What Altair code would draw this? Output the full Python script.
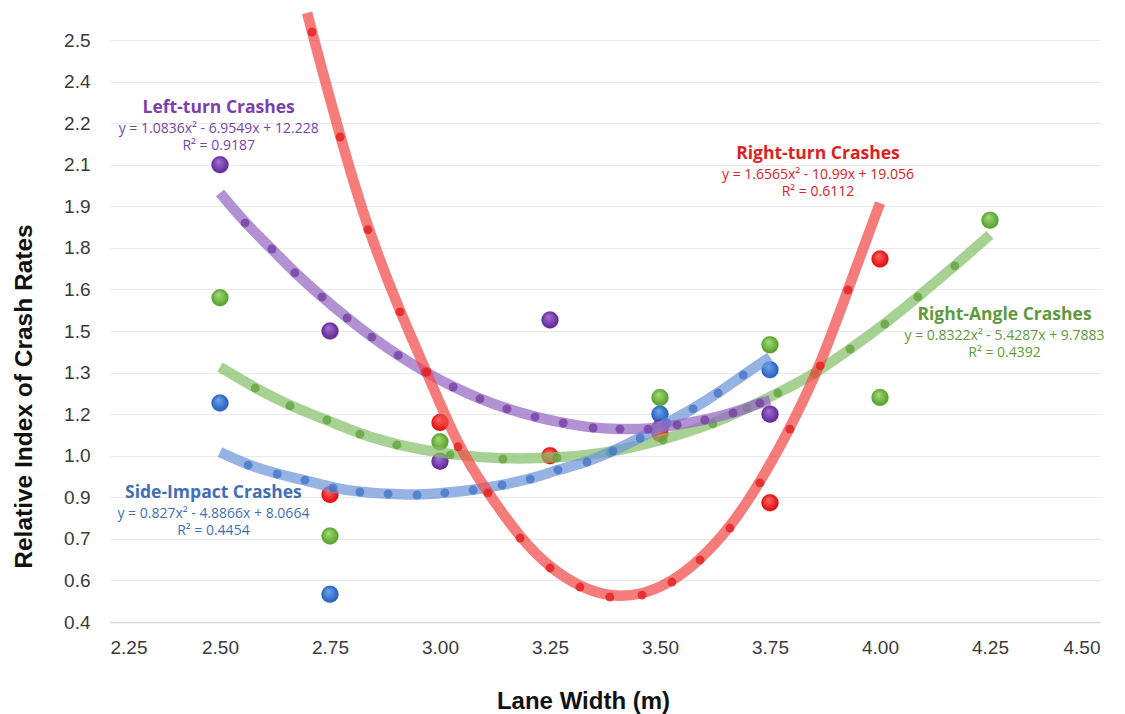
import altair as alt
import pandas as pd

# ---------------- data ----------------
# observed points: lane width (m) and relative index of crash rates
left_x = [2.50, 2.75, 3.00, 3.25, 3.50, 3.75]
left_y = [2.05, 1.45, 0.98, 1.49, 1.10, 1.15]
right_x = [2.75, 3.00, 3.25, 3.50, 3.75, 4.00]
right_y = [0.86, 1.12, 1.00, 1.08, 0.83, 1.71]
angle_x = [2.50, 2.75, 3.00, 3.50, 3.75, 4.00, 4.25]
angle_y = [1.57, 0.71, 1.05, 1.21, 1.40, 1.21, 1.85]
side_x = [2.50, 2.75, 3.50, 3.75]
side_y = [1.19, 0.50, 1.15, 1.31]

# trendline curves at their dot positions
left_tx = [2.500, 2.557, 2.618, 2.670, 2.732, 2.789, 2.845, 2.905, 2.966, 3.030,
           3.091, 3.152, 3.216, 3.280, 3.348, 3.409, 3.473, 3.539, 3.602, 3.666, 3.727, 3.750]
left_ty = [1.948, 1.840, 1.746, 1.660, 1.573, 1.497, 1.428, 1.362, 1.302, 1.248,
           1.205, 1.169, 1.140, 1.118, 1.100, 1.096, 1.096, 1.111, 1.129, 1.154, 1.190, 1.200]
right_tx = [2.698, 2.709, 2.773, 2.836, 2.909, 2.970, 3.041, 3.109, 3.182, 3.250, 3.318,
            3.386, 3.459, 3.527, 3.591, 3.659, 3.727, 3.795, 3.864, 3.927, 4.000]
right_ty = [2.598, 2.529, 2.150, 1.815, 1.519, 1.302, 1.032, 0.866, 0.703, 0.595, 0.526,
            0.490, 0.497, 0.544, 0.624, 0.739, 0.902, 1.096, 1.324, 1.598, 1.912]
angle_tx = [2.500, 2.580, 2.659, 2.743, 2.818, 2.902, 3.023, 3.143, 3.266, 3.386,
            3.507, 3.620, 3.698, 3.768, 3.852, 3.932, 4.011, 4.086, 4.170, 4.250]
angle_ty = [1.320, 1.244, 1.180, 1.129, 1.078, 1.039, 1.003, 0.988, 0.992, 1.010,
            1.057, 1.115, 1.172, 1.226, 1.295, 1.385, 1.475, 1.573, 1.685, 1.797]
side_tx = [2.500, 2.564, 2.630, 2.693, 2.757, 2.818, 2.882, 2.948, 3.011, 3.075, 3.141,
           3.205, 3.268, 3.334, 3.393, 3.455, 3.516, 3.575, 3.632, 3.689, 3.750]
side_ty = [1.013, 0.966, 0.934, 0.912, 0.884, 0.869, 0.862, 0.858, 0.866, 0.876, 0.894,
           0.916, 0.949, 0.977, 1.017, 1.064, 1.118, 1.169, 1.226, 1.291, 1.356]

# trendline labels
series_names = ["Left-turn Crashes", "Right-turn Crashes", "Right-Angle Crashes", "Side-Impact Crashes"]
equations = ["y = 1.0836x² - 6.9549x + 12.228", "y = 1.6565x² - 10.99x + 19.056",
             "y = 0.8322x² - 5.4287x + 9.7883", "y = 0.827x² - 4.8866x + 8.0664"]
r_squared = ["R² = 0.9187", "R² = 0.6112", "R² = 0.4392", "R² = 0.4454"]
label_x = [2.497, 3.859, 4.283, 2.485]
label_y = [2.255, 2.089, 1.508, 0.866]

# axes
x_ticks = [2.25, 2.50, 2.75, 3.00, 3.25, 3.50, 3.75, 4.00, 4.25, 4.50]
y_ticks = [0.4, 0.55, 0.7, 0.85, 1.0, 1.15, 1.3, 1.45, 1.6, 1.75, 1.9, 2.05, 2.2, 2.35, 2.5]
y_tick_labels = ["0.4", "0.6", "0.7", "0.9", "1.0", "1.2", "1.3", "1.5",
                 "1.6", "1.8", "1.9", "2.1", "2.2", "2.4", "2.5"]

# ---------------- styles ----------------
point_style = {
    "Left-turn Crashes": ("#a574d6", "#5a2190"),
    "Right-turn Crashes": ("#ff6a6a", "#e00000"),
    "Right-Angle Crashes": ("#a6dc78", "#4f9a25"),
    "Side-Impact Crashes": ("#6fa6ee", "#1f58b8"),
}
line_color = {
    "Left-turn Crashes": "#9468c0",
    "Right-turn Crashes": "#f24a4a",
    "Right-Angle Crashes": "#86c06a",
    "Side-Impact Crashes": "#6d95d8",
}
dot_color = {
    "Left-turn Crashes": "#7440a6",
    "Right-turn Crashes": "#e41e1e",
    "Right-Angle Crashes": "#62a43e",
    "Side-Impact Crashes": "#4577c8",
}
text_color = {
    "Left-turn Crashes": "#7b3fae",
    "Right-turn Crashes": "#e0201e",
    "Right-Angle Crashes": "#5f9a3c",
    "Side-Impact Crashes": "#3f6fb8",
}

pts = {
    "Left-turn Crashes": (left_x, left_y),
    "Right-turn Crashes": (right_x, right_y),
    "Right-Angle Crashes": (angle_x, angle_y),
    "Side-Impact Crashes": (side_x, side_y),
}
trends = {
    "Left-turn Crashes": (left_tx, left_ty),
    "Right-turn Crashes": (right_tx, right_ty),
    "Right-Angle Crashes": (angle_tx, angle_ty),
    "Side-Impact Crashes": (side_tx, side_ty),
}

xscale = alt.Scale(domain=[2.25, 4.5], nice=False, zero=False)
yscale = alt.Scale(domain=[0.4, 2.5], nice=False, zero=False)

label_expr = "[" + ",".join("'%s'" % s for s in y_tick_labels) + "][round((datum.value - 0.4) / 0.15)]"

x_axis = alt.Axis(values=x_ticks, format=".2f", grid=False, ticks=False,
                  domain=True, domainColor="#d6d6d6", domainWidth=1.5,
                  labelFont="Liberation Sans", labelFontSize=19, labelColor="#3a3a3a",
                  labelPadding=16,
                  title="Lane Width (m)", titleFont="Liberation Sans", titleFontSize=24,
                  titleFontWeight="bold", titleColor="#111111",
                  titleX=473, titleY=86, titleBaseline="alphabetic")
y_axis = alt.Axis(values=y_ticks, labelExpr=label_expr, grid=True, gridColor="#e9e9e9",
                  gridWidth=1.2, ticks=False, domain=False,
                  labelFont="Liberation Sans", labelFontSize=19, labelColor="#3a3a3a",
                  labelPadding=20,
                  title="Relative Index of Crash Rates", titleFont="Liberation Sans",
                  titleFontSize=24.5, titleFontWeight="bold", titleColor="#111111",
                  titleX=-86, titleY=356, titleAngle=-90, titleBaseline="middle")

layers = []

# base layer carrying the axes
base_df = pd.DataFrame({"x": x_ticks[:2], "y": y_ticks[:2]})
layers.append(
    alt.Chart(base_df).mark_point(opacity=0).encode(
        x=alt.X("x:Q", scale=xscale, axis=x_axis),
        y=alt.Y("y:Q", scale=yscale, axis=y_axis),
    )
)

# observed points (glossy spheres)
for name in ["Side-Impact Crashes", "Left-turn Crashes", "Right-Angle Crashes", "Right-turn Crashes"]:
    xs, ys = pts[name]
    light, dark = point_style[name]
    grad = alt.RadialGradient(
        gradient="radial",
        stops=[alt.GradientStop(color=light, offset=0), alt.GradientStop(color=dark, offset=1)],
        x1=0.4, y1=0.3, r1=0.0, x2=0.5, y2=0.5, r2=0.55,
    )
    df = pd.DataFrame({"x": xs, "y": ys})
    layers.append(
        alt.Chart(df).mark_circle(size=290, fill=grad, opacity=1, stroke=dark, strokeWidth=0.5,
                                  strokeOpacity=0.5).encode(
            x=alt.X("x:Q", scale=xscale), y=alt.Y("y:Q", scale=yscale)
        )
    )

# trendlines with their dots
for name in ["Right-Angle Crashes", "Side-Impact Crashes", "Left-turn Crashes", "Right-turn Crashes"]:
    xs, ys = trends[name]
    df = pd.DataFrame({"x": xs, "y": ys})
    layers.append(
        alt.Chart(df).mark_line(strokeWidth=10.5, opacity=0.72, color=line_color[name],
                                interpolate="basis", strokeCap="butt").encode(
            x=alt.X("x:Q", scale=xscale), y=alt.Y("y:Q", scale=yscale)
        )
    )
    layers.append(
        alt.Chart(df.iloc[1:-1]).mark_circle(size=80, opacity=0.8, color=dot_color[name]).encode(
            x=alt.X("x:Q", scale=xscale), y=alt.Y("y:Q", scale=yscale)
        )
    )

# annotations
for i, name in enumerate(series_names):
    c = text_color[name]
    t1 = pd.DataFrame({"x": [label_x[i]], "y": [label_y[i]], "t": [name]})
    layers.append(
        alt.Chart(t1).mark_text(font="Open Sans", fontSize=17.5, fontWeight="bold", color=c,
                                align="center", baseline="middle").encode(
            x=alt.X("x:Q", scale=xscale), y=alt.Y("y:Q", scale=yscale), text="t:N"
        )
    )
    t2 = pd.DataFrame({"x": [label_x[i]], "y": [label_y[i]], "t": [equations[i]]})
    layers.append(
        alt.Chart(t2).mark_text(font="Open Sans", fontSize=14, color=c, align="center",
                                baseline="middle", dy=21).encode(
            x=alt.X("x:Q", scale=xscale), y=alt.Y("y:Q", scale=yscale), text="t:N"
        )
    )
    t3 = pd.DataFrame({"x": [label_x[i]], "y": [label_y[i]], "t": [r_squared[i]]})
    layers.append(
        alt.Chart(t3).mark_text(font="Open Sans", fontSize=14, color=c, align="center",
                                baseline="middle", dy=38.5).encode(
            x=alt.X("x:Q", scale=xscale), y=alt.Y("y:Q", scale=yscale), text="t:N"
        )
    )

chart = alt.layer(*layers).properties(
    width=990, height=582,
    padding={"left": 102, "top": 32, "right": 17, "bottom": 92},
    autosize=alt.AutoSizeParams(type="none"),
    background="white",
).configure_view(stroke=None)

chart.save("out.html", embed_options={"renderer": "svg", "actions": False})
